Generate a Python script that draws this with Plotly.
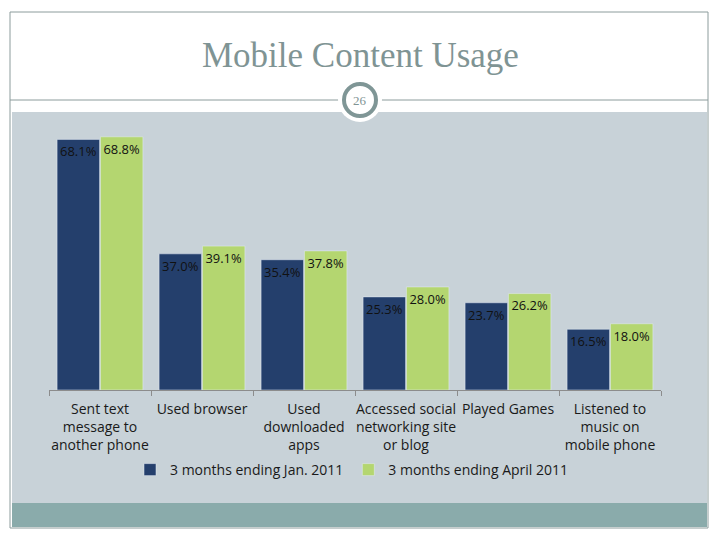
import plotly.graph_objects as go

categories = ["Sent text<br>message to<br>another phone", "Used browser",
              "Used<br>downloaded<br>apps", "Accessed social<br>networking site<br>or blog",
              "Played Games", "Listened to<br>music on<br>mobile phone"]
jan_2011 = [68.1, 37.0, 35.4, 25.3, 23.7, 16.5]
apr_2011 = [68.8, 39.1, 37.8, 28.0, 26.2, 18.0]
series_names = ["3 months ending Jan. 2011", "3 months ending April 2011"]

OFF = 8  # page body margin
W, H = 720 - 2 * OFF, 540 - 2 * OFF
L, R, T, B = 49 - OFF, 661 - OFF, 114 - OFF, 390 - OFF  # plot area in figure pixels


def px(x):
    return (x - OFF - L) / (R - L)


def py(y):
    return (B - (y - OFF)) / (B - T)


FONT = "Open Sans"
fig = go.Figure()
fig.add_trace(go.Bar(x=categories, y=jan_2011, name=series_names[0], marker_color="#243f6c",
                     texttemplate="%{y:.1f}%", textposition="inside", insidetextanchor="end",
                     textfont=dict(color="#111111", size=13, family=FONT), textangle=0))
fig.add_trace(go.Bar(x=categories, y=apr_2011, name=series_names[1], marker_color="#b4d670",
                     texttemplate="%{y:.1f}%", textposition="inside", insidetextanchor="end",
                     textfont=dict(color="#111111", size=13, family=FONT), textangle=0))

edge = "#8c9c9c"
shapes = [
    dict(type="rect", xref="paper", yref="paper", x0=px(12), x1=px(707), y0=py(112), y1=py(503),
         fillcolor="#c8d2d8", line_width=0, layer="below"),
    dict(type="rect", xref="paper", yref="paper", x0=px(12), x1=px(707), y0=py(503), y1=py(527),
         fillcolor="#8aabab", line_width=0, layer="below"),
    dict(type="rect", xref="paper", yref="paper", x0=px(10), x1=px(708), y0=py(12), y1=py(528),
         line=dict(color=edge, width=1), fillcolor="rgba(0,0,0,0)", layer="below"),
    dict(type="line", xref="paper", yref="paper", x0=px(10), x1=px(708), y0=py(100), y1=py(100),
         line=dict(color=edge, width=1), layer="below"),
    dict(type="circle", xref="paper", yref="paper", x0=px(338), x1=px(382), y0=py(78), y1=py(122),
         fillcolor="white", line_width=0, layer="above"),
    dict(type="circle", xref="paper", yref="paper", x0=px(344), x1=px(376), y0=py(84), y1=py(116),
         fillcolor="white", line=dict(color="#7f9696", width=4), layer="above"),
]

annotations = [
    dict(text="Mobile Content Usage", xref="paper", yref="paper", x=px(360), y=py(56),
         showarrow=False, font=dict(family="Liberation Serif", size=35, color="#7f9494"),
         xanchor="center", yanchor="middle"),
    dict(text="26", xref="paper", yref="paper", x=px(360), y=py(100),
         showarrow=False, font=dict(family="Liberation Serif", size=13, color="#7f9494"),
         xanchor="center", yanchor="middle"),
]

fig.update_layout(
    width=W, height=H,
    margin=dict(l=L, r=W - R, t=T, b=H - B, pad=0),
    paper_bgcolor="white", plot_bgcolor="rgba(0,0,0,0)",
    barmode="group", bargap=0.15, bargroupgap=0.02,
    uniformtext=dict(minsize=12, mode="show"),
    shapes=shapes, annotations=annotations,
    font=dict(family=FONT, size=14, color="#1a1a1a"),
    legend=dict(orientation="h", x=px(352), xanchor="center", y=py(470), yanchor="middle",
                bgcolor="rgba(0,0,0,0)", font=dict(size=14, family=FONT), traceorder="normal",
                itemwidth=30),
    showlegend=True,
)
fig.update_xaxes(showline=True, linecolor="#8c8c8c", linewidth=1, ticks="outside",
                 tickson="boundaries", ticklen=5, tickcolor="#8c8c8c", ticklabelstandoff=6,
                 tickfont=dict(size=14, family=FONT, color="#1a1a1a"), tickangle=0, showgrid=False)
fig.update_yaxes(visible=False, range=[0, 75])

fig.write_html("out.html")
